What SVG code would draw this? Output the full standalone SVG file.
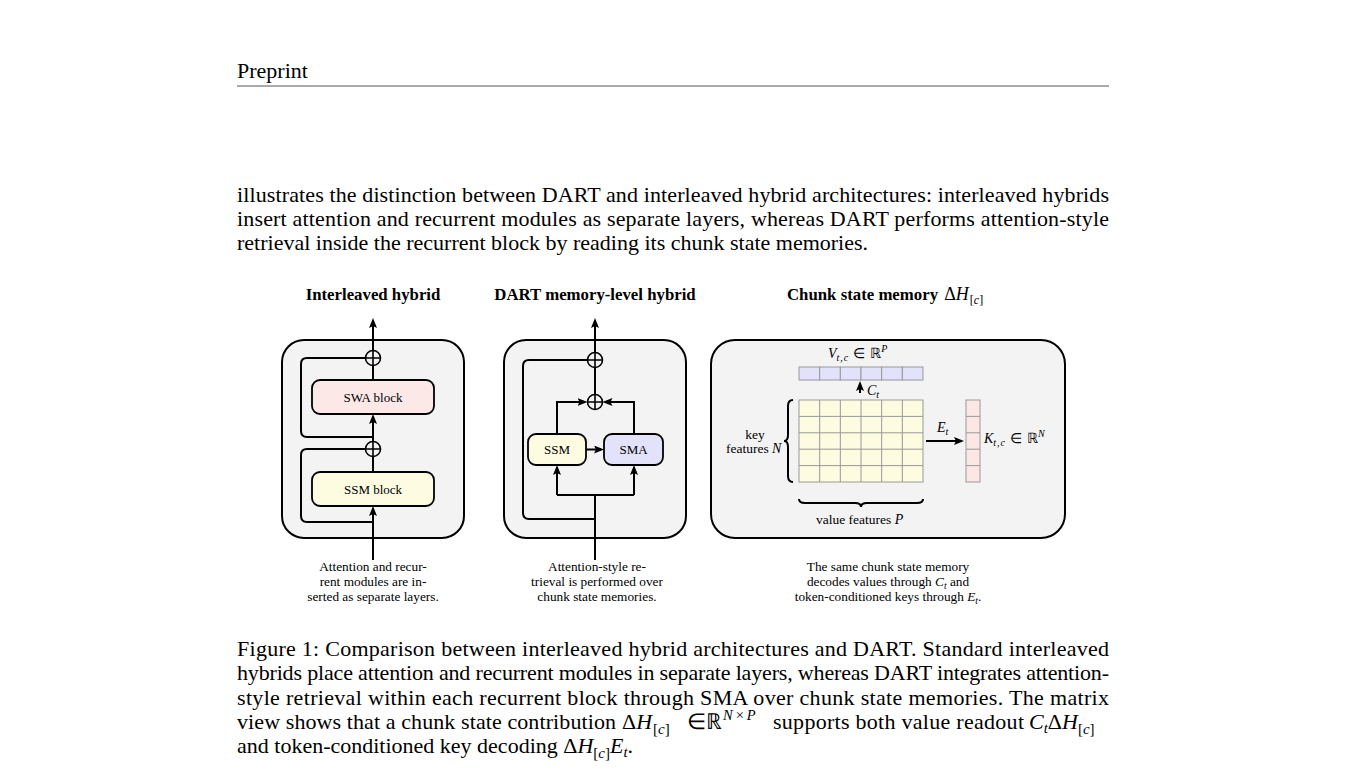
<svg xmlns="http://www.w3.org/2000/svg" width="1347" height="783" viewBox="0 0 1347 783">
<style>
text{font-family:"Liberation Serif","Times New Roman",serif;fill:#000}
.body{font-size:22px}
.ttl{font-size:16.8px;font-weight:bold}
.node{font-size:13px}
.cap{font-size:13.3px}
.lbl{font-size:13.5px}
.it{font-style:italic}
.panel{fill:#f3f3f3;stroke:#000;stroke-width:2}
.blk{stroke:#000;stroke-width:1.8}
.ln{fill:none;stroke:#000;stroke-width:2}
.arr{fill:none;stroke:#000;stroke-width:2;marker-end:url(#ah)}
.cell{stroke:#999;stroke-width:1}
.sum{fill:#f3f3f3;stroke:#000;stroke-width:1.6}
</style>
<defs>
<marker id="ah" viewBox="0 0 10 8" refX="7" refY="4" markerWidth="10" markerHeight="8" markerUnits="userSpaceOnUse" orient="auto">
<path d="M0,0 L10,4 L0,8 L2,4 z" fill="#000"/>
</marker>
<g id="plus">
<circle cx="0" cy="0" r="7.5" class="sum"/>
<path d="M-7.5,0 H7.5 M0,-7.5 V7.5" stroke="#000" stroke-width="1.6"/>
</g>
</defs>
<rect width="1347" height="783" fill="#fff"/>

<g id="page-text">
<text class="body" x="237" y="78">Preprint</text>
<line x1="237" y1="86" x2="1109" y2="86" stroke="#555" stroke-width="1"/>
<text class="body" x="237" y="202" textLength="872" lengthAdjust="spacing">illustrates the distinction between DART and interleaved hybrid architectures: interleaved hybrids</text>
<text class="body" x="237" y="226" textLength="872" lengthAdjust="spacing">insert attention and recurrent modules as separate layers, whereas DART performs attention-style</text>
<text class="body" x="237" y="250">retrieval inside the recurrent block by reading its chunk state memories.</text>
</g>

<g id="titles">
<text class="ttl" x="373" y="300" text-anchor="middle">Interleaved hybrid</text>
<text class="ttl" x="595" y="300" text-anchor="middle">DART memory-level hybrid</text>
<text class="ttl" x="787" y="300">Chunk state memory <tspan font-weight="normal" font-size="18" dx="2">Δ</tspan><tspan font-weight="normal" font-size="18" class="it">H</tspan><tspan font-weight="normal" font-size="12" dy="4" dx="1">[<tspan class="it">c</tspan>]</tspan></text>
</g>

<g id="panel-interleaved">
<rect class="panel" x="282" y="340" width="182" height="198" rx="22"/>
</g>
<g id="panel-dart">
<rect class="panel" x="504" y="340" width="182" height="198" rx="22"/>
</g>
<g id="panel-memory">
<rect class="panel" x="711" y="340" width="354" height="198" rx="24"/>
</g>

<g id="connectors">
<!-- interleaved -->
<path class="arr" d="M373,560 V509"/>
<path class="ln" d="M373,472 V456.5"/>
<path class="arr" d="M373,441.5 V417"/>
<path class="ln" d="M373,380 V365.5"/>
<path class="arr" d="M373,350.5 V321"/>
<path class="ln" d="M373,522 H307 Q301,522 301,516 V455 Q301,449 307,449 H365.5"/>
<path class="ln" d="M373,437 H307 Q301,437 301,431 V364 Q301,358 307,358 H365.5"/>
<!-- dart -->
<path class="ln" d="M595,560 V495"/>
<path class="ln" d="M557,495 H634"/>
<path class="arr" d="M557,495 V468"/>
<path class="arr" d="M634,495 V468"/>
<path class="arr" d="M586,449.5 H601"/>
<path class="arr" d="M557,434 V402 H584.5"/>
<path class="arr" d="M634,434 V402 H605.5"/>
<path class="ln" d="M595,394.5 V367.5"/>
<path class="arr" d="M595,352.5 V321"/>
<path class="ln" d="M595,519 H529 Q523,519 523,513 V366 Q523,360 529,360 H587.5"/>
<!-- memory -->
<path class="arr" d="M860,393 V384"/>
<path class="arr" d="M926,441 H961"/>
</g>

<g id="node-swa">
<rect class="blk" x="312" y="380" width="122" height="34" rx="8" fill="#fde8e8"/>
<text class="node" x="373" y="401.5" text-anchor="middle">SWA block</text>
</g>
<g id="node-ssm-block">
<rect class="blk" x="312" y="472" width="122" height="34" rx="8" fill="#fdfbe0"/>
<text class="node" x="373" y="493.5" text-anchor="middle">SSM block</text>
</g>
<g id="sum-interleaved-top"><use href="#plus" x="373" y="358"/></g>
<g id="sum-interleaved-mid"><use href="#plus" x="373" y="449"/></g>

<g id="node-ssm">
<rect class="blk" x="528" y="434" width="58" height="31" rx="8" fill="#fdfbe0"/>
<text class="node" x="557" y="454" text-anchor="middle">SSM</text>
</g>
<g id="node-sma">
<rect class="blk" x="604" y="434" width="59" height="31" rx="8" fill="#e2e2fa"/>
<text class="node" x="633.5" y="454" text-anchor="middle">SMA</text>
</g>
<g id="sum-dart-top"><use href="#plus" x="595" y="360"/></g>
<g id="sum-dart-mid"><use href="#plus" x="595" y="402"/></g>

<g id="value-vector">
<g fill="#e2e2fa" class="cell">
<rect x="799" y="367" width="20.67" height="13"/>
<rect x="819.67" y="367" width="20.67" height="13"/>
<rect x="840.33" y="367" width="20.67" height="13"/>
<rect x="861" y="367" width="20.67" height="13"/>
<rect x="881.67" y="367" width="20.67" height="13"/>
<rect x="902.33" y="367" width="20.67" height="13"/>
</g>
<text class="lbl" x="828" y="358"><tspan class="it" font-size="14">V</tspan><tspan font-size="10" dy="3" class="it" letter-spacing="1">t,c</tspan><tspan dy="-3" dx="4">∈</tspan><tspan dx="5">ℝ</tspan><tspan font-size="10" dy="-6" class="it">P</tspan></text>
</g>

<g id="memory-matrix">
<rect x="799" y="400" width="124" height="82" fill="#fdfbe0" class="cell"/>
<path class="cell" fill="none" d="M819.67,400 V482 M840.33,400 V482 M861,400 V482 M881.67,400 V482 M902.33,400 V482 M799,416.4 H923 M799,432.8 H923 M799,449.2 H923 M799,465.6 H923"/>
<text class="lbl" x="867" y="395"><tspan class="it" font-size="14">C</tspan><tspan font-size="10" dy="3" class="it">t</tspan></text>
<text class="lbl" x="937" y="432"><tspan class="it" font-size="14">E</tspan><tspan font-size="10" dy="3" class="it">t</tspan></text>
<path class="ln" stroke-width="1.3" d="M793,400 Q788,400 788,406 V435 Q788,441 784,441 Q788,441 788,447 V476 Q788,482 793,482"/>
<path class="ln" stroke-width="1.3" d="M799,499 Q799,503 805,503 H855 Q861,503 861,507 Q861,503 867,503 H917 Q923,503 923,499"/>
<text class="lbl" x="755" y="439" text-anchor="middle">key</text>
<text class="lbl" x="726" y="453">features <tspan class="it" font-size="14">N</tspan></text>
<text class="lbl" x="816" y="524">value features <tspan class="it" font-size="14">P</tspan></text>
</g>

<g id="key-vector">
<rect x="966" y="400" width="14" height="82" fill="#fde6e6" class="cell"/>
<path class="cell" fill="none" d="M966,416.4 H980 M966,432.8 H980 M966,449.2 H980 M966,465.6 H980"/>
<text class="lbl" x="984" y="443"><tspan class="it" font-size="14">K</tspan><tspan font-size="10" dy="3" class="it" letter-spacing="1">t,c</tspan><tspan dy="-3" dx="4">∈</tspan><tspan dx="5">ℝ</tspan><tspan font-size="10" dy="-6" class="it">N</tspan></text>
</g>

<g id="panel-captions">
<text class="cap" text-anchor="middle"><tspan x="373" y="571">Attention and recur-</tspan><tspan x="373" y="586">rent modules are in-</tspan><tspan x="373" y="601">serted as separate layers.</tspan></text>
<text class="cap" text-anchor="middle"><tspan x="597" y="571">Attention-style re-</tspan><tspan x="597" y="586">trieval is performed over</tspan><tspan x="597" y="601">chunk state memories.</tspan></text>
<text class="cap" text-anchor="middle" x="888" y="571">The same chunk state memory</text>
<text class="cap" text-anchor="middle" x="888" y="586">decodes values through <tspan class="it">C</tspan><tspan font-size="9.5" dy="3" class="it">t</tspan><tspan dy="-3"> and</tspan></text>
<text class="cap" text-anchor="middle" x="888" y="601">token-conditioned keys through <tspan class="it">E</tspan><tspan font-size="9.5" dy="3" class="it">t</tspan><tspan dy="-3">.</tspan></text>
</g>

<g id="figure-caption">
<text class="body" x="237" y="656" textLength="872" lengthAdjust="spacing">Figure 1: Comparison between interleaved hybrid architectures and DART. Standard interleaved</text>
<text class="body" x="237" y="680" textLength="872" lengthAdjust="spacing">hybrids place attention and recurrent modules in separate layers, whereas DART integrates attention-</text>
<text class="body" x="237" y="705" textLength="872" lengthAdjust="spacing">style retrieval within each recurrent block through SMA over chunk state memories.  The matrix</text>
<text class="body" x="237" y="729" textLength="379" lengthAdjust="spacing">view shows that a chunk state contribution</text>
<text class="body" x="622" y="729">Δ<tspan class="it">H</tspan><tspan font-size="15" dy="5" dx="1">[<tspan class="it">c</tspan>]</tspan></text>
<text class="body" x="687" y="729">∈</text>
<text class="body" x="706" y="729">ℝ<tspan font-size="14.5" dy="-9" dx="1"><tspan class="it">N</tspan><tspan dx="3">×</tspan><tspan class="it" dx="3">P</tspan></tspan></text>
<text class="body" x="773" y="729" textLength="251" lengthAdjust="spacing">supports both value readout</text>
<text class="body" x="1029" y="729"><tspan class="it">C</tspan><tspan font-size="15" dy="4" class="it">t</tspan><tspan dy="-4">Δ</tspan><tspan class="it">H</tspan><tspan font-size="15" dy="5">[<tspan class="it">c</tspan>]</tspan></text>
<text class="body" x="237" y="753">and token-conditioned key decoding <tspan>Δ</tspan><tspan class="it">H</tspan><tspan font-size="15" dy="5">[<tspan class="it">c</tspan>]</tspan><tspan class="it" dy="-5">E</tspan><tspan font-size="15" dy="4" class="it">t</tspan><tspan dy="-4">.</tspan></text>
</g>
</svg>
